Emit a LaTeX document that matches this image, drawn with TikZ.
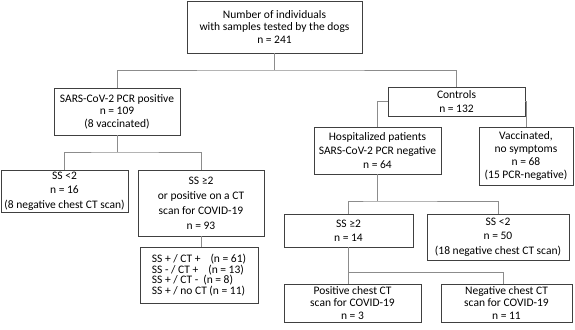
\documentclass[tikz,border=0pt]{standalone}
\usepackage{fontspec}
\setmainfont{Carlito}
\usepackage{tikz}
\usetikzlibrary{calc}
\definecolor{boxgray}{rgb}{0.25,0.25,0.25}
\definecolor{linkgray}{rgb}{0.55,0.55,0.55}

\begin{document}
\begin{tikzpicture}[x=1pt,y=-1pt,
    box/.style={draw=boxgray, line width=0.9pt, align=center, inner sep=1pt,
                font=\fontsize{11.5}{12.5}\selectfont},
    link/.style={draw=linkgray, line width=0.9pt}]
            \useasboundingbox (0,0) rectangle (575,329);
            %Split points
            \coordinate (s1) at (274.5,70);
            \coordinate (s2) at (117,152);
            \coordinate (s3) at (377.5,201);
            \coordinate (s4) at (348.5,272);
            %Boxes
            \node[box, minimum width=175pt, minimum height=52pt] (top) at (274.5,27) {Number of individuals\\with samples tested by the dogs\\n = 241};
            \node[box, minimum width=126pt, minimum height=47pt] (pos) at (117,111.5) {SARS-CoV-2 PCR positive\\n = 109\\(8 vaccinated)};
            \node[box, minimum width=137pt, minimum height=29pt, font=\fontsize{11.5}{14}\selectfont] (ctrl) at (456.5,101.5) {Controls\\n = 132};
            \node[box, minimum width=127pt, minimum height=42pt, font=\fontsize{11.5}{14.5}\selectfont] (sslow) at (64.5,191) {SS <2\\n = 16\\(8 negative chest CT scan)};
            \node[box, minimum width=126pt, minimum height=66pt, font=\fontsize{11.5}{15}\selectfont] (sshigh) at (201,203) {SS ≥2\\or positive on a CT\\scan for COVID-19\\n = 93};
            \node[box, minimum width=118pt, minimum height=56pt, align=left, font=\fontsize{11.5}{10.5}\selectfont] (sub) at (199,275) {SS + / CT +\hspace{10pt}(n = 61)\\SS - / CT +\hspace{10pt}(n = 13)\\SS + / CT -\hspace{5pt}(n = 8)\\SS + / no CT (n = 11)};
            \node[box, minimum width=127pt, minimum height=47pt, font=\fontsize{11.5}{14}\selectfont] (hosp) at (377.5,150.5) {Hospitalized patients\\SARS-CoV-2 PCR negative\\n = 64};
            \node[box, minimum width=94pt, minimum height=58pt, font=\fontsize{11.5}{13.3}\selectfont] (vacc) at (526,156) {Vaccinated,\\no symptoms\\n = 68\\(15 PCR-negative)};
            \node[box, minimum width=129pt, minimum height=33pt, font=\fontsize{11.5}{14}\selectfont] (hhigh) at (348.5,230.5) {SS ≥2\\n = 14};
            \node[box, minimum width=142pt, minimum height=46pt, font=\fontsize{11.5}{14.5}\selectfont] (hlow) at (498,237) {SS <2\\n = 50\\(18 negative chest CT scan)};
            \node[box, minimum width=137pt, minimum height=38pt] (ctpos) at (352.5,303) {Positive chest CT\\scan for COVID-19\\n = 3};
            \node[box, minimum width=131pt, minimum height=38pt] (ctneg) at (506.5,303) {Negative chest CT\\scan for COVID-19\\n = 11};
            %Links
            \draw[link] (top) -- (s1);
            \draw[link] (pos.north) |- (s1) -| (ctrl.north);
            \draw[link] (pos) -- (s2);
            \draw[link] (sslow.north) |- (s2) -| (sshigh.north);
            \draw[link] (sshigh.south) -- (sshigh.south |- sub.north);
            \draw[link] (ctrl.west) -| (hosp.north);
            \draw[link] (ctrl.east) -| (vacc.north);
            \draw[link] (hosp) -- (s3);
            \draw[link] (hhigh.north) |- (s3) -| (hlow.north);
            \draw[link] (hhigh.south) -- (hhigh.south |- ctpos.north);
            \draw[link] (s4) -| ([xshift=-3.5pt]ctneg.north);
\end{tikzpicture}
\end{document}
